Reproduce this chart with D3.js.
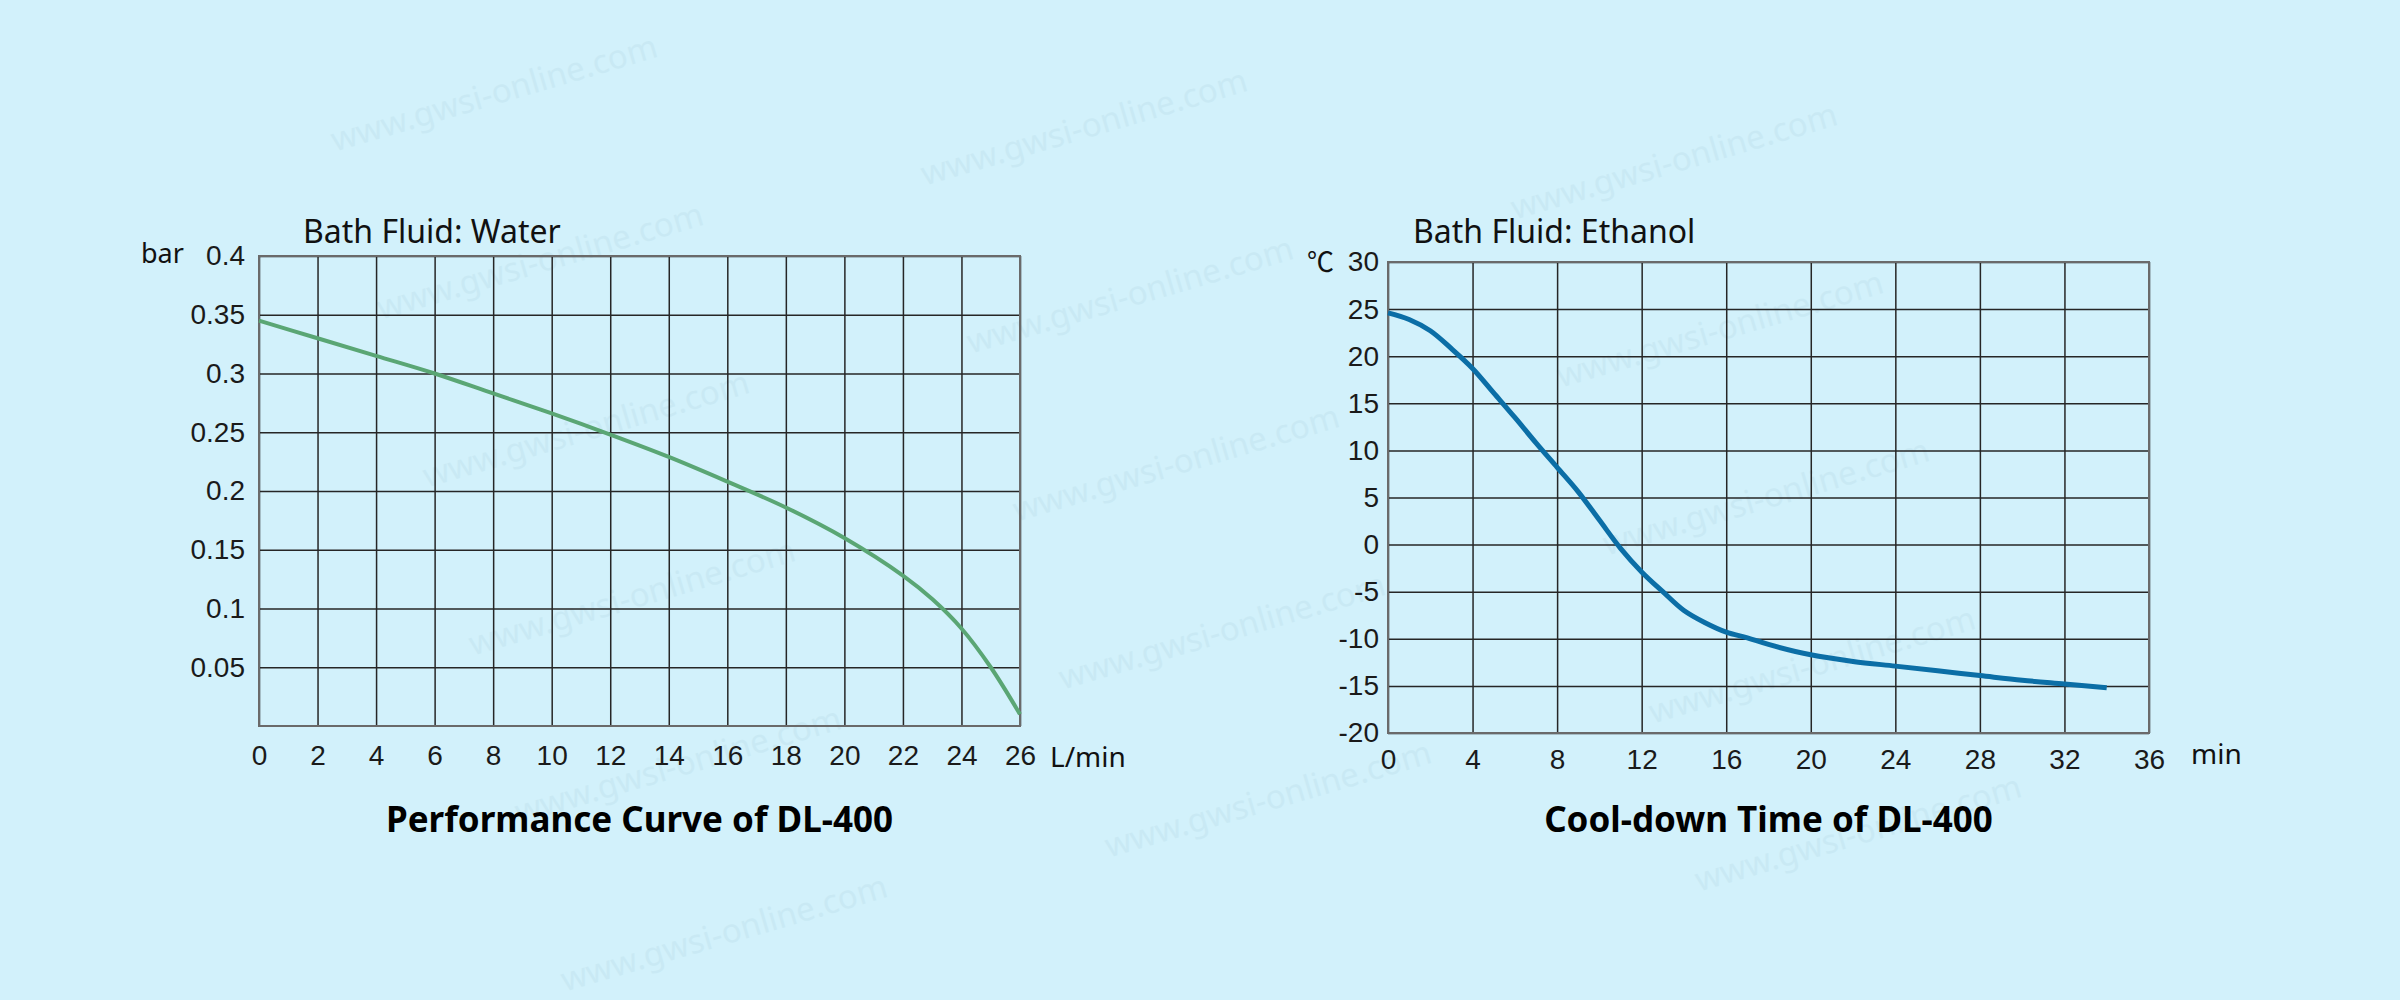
<!DOCTYPE html>
<html>
<head>
<meta charset="utf-8">
<title>DL-400 curves</title>
<script src="https://cdn.jsdelivr.net/npm/d3@7"></script>
<style>
html, body { margin: 0; padding: 0; background: #d2f1fb; }
svg { display: block; font-family: "Noto Sans", "Open Sans", sans-serif; }
.grid line { stroke: #262626; stroke-width: 1.5; }
.grid path { display: none; }
.tick text { fill: #1a1a1a; }
</style>
</head>
<body>
<svg id="chart" width="2400" height="1000"></svg>
<script>
// performance curve, bath fluid water
var flowX = [0, 2, 4, 6, 8, 10, 12, 14, 16, 18, 20, 22, 23, 24, 25, 26];
var pressureY = [0.345, 0.330, 0.315, 0.300, 0.283, 0.266, 0.248, 0.229, 0.208, 0.186, 0.160, 0.128, 0.108, 0.083, 0.050, 0.010];
var flowTicks = [0, 2, 4, 6, 8, 10, 12, 14, 16, 18, 20, 22, 24, 26];
var pressureTicks = [0.05, 0.1, 0.15, 0.2, 0.25, 0.3, 0.35, 0.4];
var pressureLabels = ["0.05", "0.1", "0.15", "0.2", "0.25", "0.3", "0.35", "0.4"];

// cool-down time, bath fluid ethanol
var timeX = [0, 1, 2, 3, 4, 5, 6, 7, 8, 9, 10, 11, 12, 13, 14, 15, 16, 17, 18, 20, 22, 24, 26, 28, 30, 32, 34];
var tempY = [24.6, 23.9, 22.7, 20.8, 18.7, 16.1, 13.5, 10.8, 8.2, 5.6, 2.6, -0.4, -2.9, -5.0, -7.0, -8.3, -9.3, -9.9, -10.6, -11.7, -12.4, -12.9, -13.4, -13.9, -14.4, -14.8, -15.2];
var timeTicks = [0, 4, 8, 12, 16, 20, 24, 28, 32, 36];
var tempTicks = [-20, -15, -10, -5, 0, 5, 10, 15, 20, 25, 30];

var svg = d3.select('#chart');

// faint watermark tiles (only the ones that fit inside the picture)
var marks = svg.append('g').attr('class', 'watermark');
for (var r = -2; r < 8; r++) {
  for (var c = -1; c < 5; c++) {
    var cx = 494 + c * 590 + r * 46;
    var cy = 93 + c * 34 + r * 168;
    if (cx < 180 || cx > 2220 || cy < 60 || cy > 945) continue;
    marks.append('text')
      .attr('transform', 'translate(' + cx + ',' + cy + ') rotate(-16.4)')
      .attr('text-anchor', 'middle')
      .attr('dy', '0.35em')
      .style('font-size', '33px')
      .style('fill', '#b9dde9')
      .style('opacity', 0.35)
      .text('www.gwsi-online.com');
  }
}

var drawPanel = function(opt) {
  var g = svg.append('g');
  var w = opt.right - opt.left;
  var h = opt.bottom - opt.top;

  var x = d3.scaleLinear().domain(opt.xDomain).range([opt.left, opt.right]);
  var y = d3.scaleLinear().domain(opt.yDomain).range([opt.bottom, opt.top]);

  // vertical grid + x labels
  var xa = g.append('g')
    .attr('class', 'grid')
    .attr('transform', 'translate(0,' + opt.bottom + ')')
    .call(d3.axisBottom(x).tickValues(opt.xTicks).tickSizeInner(-h).tickSizeOuter(0).tickPadding(opt.xPad));
  xa.selectAll('text').style('font-size', '28px').attr('font-family', null);

  // horizontal grid + y labels
  var ya = g.append('g')
    .attr('class', 'grid')
    .attr('transform', 'translate(' + opt.left + ',0)')
    .call(d3.axisLeft(y).tickValues(opt.yTicks).tickSizeInner(-w).tickSizeOuter(0).tickPadding(opt.yPad)
      .tickFormat(function(d, i) { return opt.yLabels ? opt.yLabels[i] : d; }));
  ya.selectAll('text').style('font-size', '28px').attr('font-family', null);

  // frame
  g.append('rect')
    .attr('x', opt.left).attr('y', opt.top)
    .attr('width', w).attr('height', h)
    .attr('fill', 'none')
    .attr('stroke', '#6a6a6a')
    .attr('stroke-width', 2);

  var line = d3.line()
    .x(function(d) { return x(d[0]); })
    .y(function(d) { return y(d[1]); })
    .curve(d3.curveCatmullRom.alpha(0.5));

  g.append('path')
    .datum(d3.zip(opt.xs, opt.ys))
    .attr('d', line)
    .attr('fill', 'none')
    .attr('stroke', opt.color)
    .attr('stroke-width', opt.lineWidth)
    .attr('stroke-linecap', 'butt');

  // subtitle, units, title
  g.append('text')
    .attr('x', opt.subX).attr('y', 243)
    .style('font-size', '32px').style('fill', '#111')
    .text(opt.subtitle);

  g.append('text')
    .attr('x', opt.yUnitX).attr('y', opt.yUnitY)
    .style('font-size', '27px').style('fill', '#111')
    .style('font-family', opt.yUnitFont || null)
    .text(opt.yUnit);

  g.append('text')
    .attr('x', opt.xUnitX).attr('y', opt.xUnitY)
    .style('font-size', '28px').style('fill', '#111')
    .text(opt.xUnit);

  g.append('text')
    .attr('x', (opt.left + opt.right) / 2).attr('y', 832)
    .attr('text-anchor', 'middle')
    .style('font-size', '35px').style('font-weight', 'bold').style('fill', '#000')
    .text(opt.title);
};

drawPanel({
  left: 259, right: 1020, top: 256, bottom: 726,
  xDomain: [0, 26], yDomain: [0, 0.4],
  xTicks: flowTicks, yTicks: pressureTicks, yLabels: pressureLabels,
  xPad: 19, yPad: 14,
  xs: flowX, ys: pressureY,
  color: '#5aa674', lineWidth: 4,
  subtitle: 'Bath Fluid: Water', subX: 303,
  yUnit: 'bar', yUnitX: 141, yUnitY: 263,
  xUnit: 'L/min', xUnitX: 1050, xUnitY: 767,
  title: 'Performance Curve of DL-400'
});

drawPanel({
  left: 1388, right: 2149, top: 262, bottom: 733,
  xDomain: [0, 36], yDomain: [-20, 30],
  xTicks: timeTicks, yTicks: tempTicks,
  xPad: 16, yPad: 9,
  xs: timeX, ys: tempY,
  color: '#0b6ea6', lineWidth: 5,
  subtitle: 'Bath Fluid: Ethanol', subX: 1413,
  yUnit: '℃', yUnitX: 1307, yUnitY: 272, yUnitFont: '"Noto Sans CJK SC", "Noto Sans", sans-serif',
  xUnit: 'min', xUnitX: 2191, xUnitY: 764,
  title: 'Cool-down Time of DL-400'
});
</script>
</body>
</html>
